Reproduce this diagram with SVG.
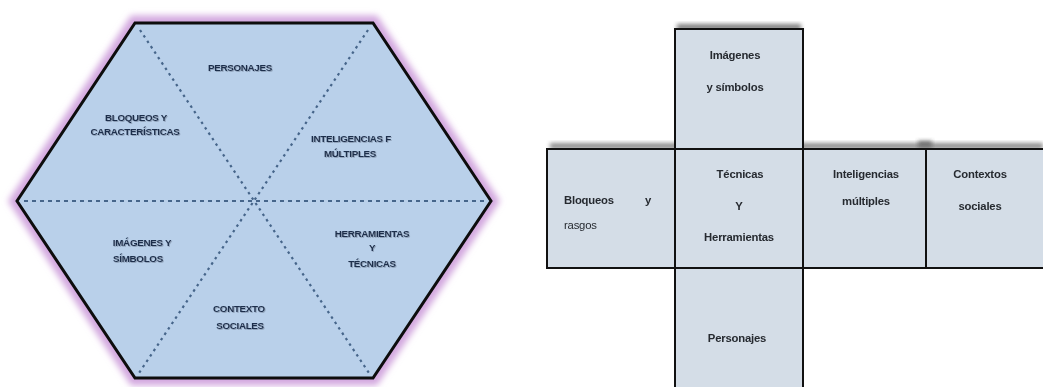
<svg xmlns="http://www.w3.org/2000/svg" width="1043" height="387" viewBox="0 0 1043 387">
<style>
.hl{font-family:"Liberation Sans","DejaVu Sans",sans-serif;font-weight:bold;font-size:9.8px;fill:#1a2d4b;text-anchor:middle;letter-spacing:-0.3px}
.cl{font-family:"Liberation Sans","DejaVu Sans",sans-serif;font-weight:bold;font-size:11.3px;fill:#262a30;text-anchor:middle;letter-spacing:-0.2px}
.box{fill:#d4dde7;stroke:#111;stroke-width:2}
.dash{stroke:#46658a;stroke-width:2.2;fill:none}
</style>
<defs>
<filter id="glow" x="-10%" y="-10%" width="120%" height="120%"><feGaussianBlur stdDeviation="3"/></filter>
<filter id="sh" x="-20%" y="-50%" width="140%" height="200%"><feGaussianBlur stdDeviation="2"/></filter>
<filter id="ts" x="-10%" y="-30%" width="120%" height="160%"><feDropShadow dx="0.8" dy="0.8" stdDeviation="0.6" flood-color="#6f7f95" flood-opacity="0.7"/></filter>
</defs>
<rect width="1043" height="387" fill="#ffffff"/>

<g id="hexagon">
<polygon points="135,23 373,23 491,201 373,378 135,378 17,201" fill="none" stroke="#d3a8df" stroke-width="15" filter="url(#glow)"/>
<polygon points="135,23 373,23 491,201 373,378 135,378 17,201" fill="#b9d0ea" stroke="#0d0d0d" stroke-width="3" stroke-linejoin="miter"/>
</g>

<g id="connectors">
<line class="dash" x1="140" y1="30" x2="369" y2="373" stroke-dasharray="2.5,4"/>
<line class="dash" x1="368" y1="30" x2="139" y2="373" stroke-dasharray="2.5,4"/>
<line class="dash" x1="24" y1="201" x2="484" y2="201" stroke-dasharray="4,4" stroke-width="1.7"/>
</g>

<g id="hex-labels" filter="url(#ts)">
<g id="h-personajes"><text class="hl" x="240" y="71">PERSONAJES</text></g>
<g id="h-bloqueos"><text class="hl" x="136" y="121">BLOQUEOS  Y</text><text class="hl" x="135" y="135">CARACTERÍSTICAS</text></g>
<g id="h-inteligencias"><text class="hl" x="351" y="142">INTELIGENCIAS F</text><text class="hl" x="350" y="157">MÚLTIPLES</text></g>
<g id="h-imagenes"><text class="hl" x="142" y="246">IMÁGENES Y</text><text class="hl" x="138" y="262">SÍMBOLOS</text></g>
<g id="h-herramientas"><text class="hl" x="372" y="237">HERRAMIENTAS</text><text class="hl" x="372" y="251">Y</text><text class="hl" x="372" y="267">TÉCNICAS</text></g>
<g id="h-contexto"><text class="hl" x="239" y="312">CONTEXTO</text><text class="hl" x="240" y="329">SOCIALES</text></g>
</g>

<g id="cross-shadows" opacity="0.75">
<rect x="677" y="24" width="124" height="6" fill="#555" filter="url(#sh)"/>
<rect x="550" y="143" width="493" height="6" fill="#666" filter="url(#sh)"/>
<rect x="918" y="141" width="14" height="7" fill="#444" filter="url(#sh)"/>
</g>

<g id="n-imagenes">
<rect class="box" x="675" y="29" width="128" height="120"/>
<text class="cl" x="735" y="59">Imágenes</text>
<text class="cl" x="735" y="91">y símbolos</text>
</g>
<g id="n-bloqueos">
<rect class="box" x="547" y="149" width="128" height="119"/>
<text class="cl" x="564" y="204" style="text-anchor:start">Bloqueos</text>
<text class="cl" x="648" y="204">y</text>
<text class="cl" x="564" y="229" style="text-anchor:start;font-weight:normal">rasgos</text>
</g>
<g id="n-inteligencias">
<rect class="box" x="803" y="149" width="123" height="119"/>
<text class="cl" x="866" y="178">Inteligencias</text>
<text class="cl" x="866" y="205">múltiples</text>
</g>
<g id="n-contextos">
<rect class="box" x="926" y="149" width="125" height="119"/>
<text class="cl" x="980" y="178">Contextos</text>
<text class="cl" x="980" y="210">sociales</text>
</g>
<g id="n-personajes">
<rect class="box" x="675" y="268" width="128" height="125"/>
<text class="cl" x="737" y="342">Personajes</text>
</g>
<g id="n-tecnicas">
<rect class="box" x="675" y="149" width="128" height="119"/>
<text class="cl" x="740" y="178">Técnicas</text>
<text class="cl" x="739" y="210">Y</text>
<text class="cl" x="739" y="241">Herramientas</text>
</g>
</svg>
